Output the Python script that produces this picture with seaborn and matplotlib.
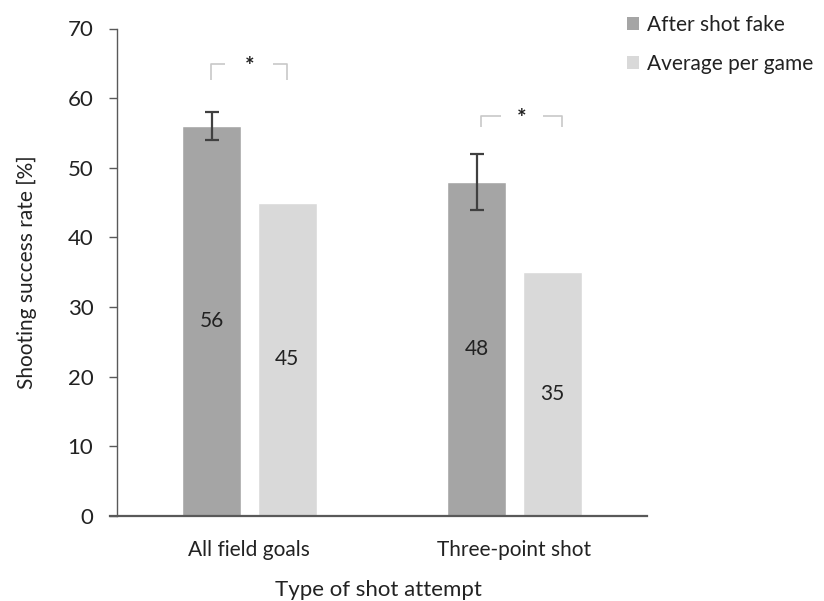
import matplotlib
matplotlib.use("Agg")
import matplotlib.pyplot as plt
import seaborn as sns
import pandas as pd
from matplotlib.patches import Patch

categories = ["All field goals", "Three-point shot"]
series = ["After shot fake", "Average per game"]
after_fake = [56, 48]
average_game = [45, 35]
after_fake_err = [2, 4]
y_ticks = [0, 10, 20, 30, 40, 50, 60, 70]

df = pd.DataFrame({
    "cat": categories * 2,
    "series": [series[0]] * 2 + [series[1]] * 2,
    "val": after_fake + average_game,
})

sns.set_theme(style="ticks")
plt.rcParams["font.family"] = ["Lato", "DejaVu Sans"]

fig = plt.figure(figsize=(8.24, 6.01), dpi=100)
ax = fig.add_axes([110 / 824, 1 - 516 / 601, (647 - 110) / 824, (516 - 28.5) / 601])

palette = {series[0]: "#a5a5a5", series[1]: "#d9d9d9"}
sns.barplot(data=df, x="cat", y="val", hue="series", order=categories,
            hue_order=series, palette=palette, width=0.57, gap=0.22,
            errorbar=None, saturation=1, ax=ax, legend=False)

off = 0.1425
for i, (v, e) in enumerate(zip(after_fake, after_fake_err)):
    ax.errorbar(i - off, v, yerr=e, fmt="none", ecolor="#404040",
                elinewidth=1.6, capsize=5, capthick=1.6, zorder=5)

txt = "#222222"
for i, v in enumerate(after_fake):
    ax.text(i - off, v / 2, str(v), ha="center", va="center", fontsize=15, color=txt)
for i, v in enumerate(average_game):
    ax.text(i + off, v / 2, str(v), ha="center", va="center", fontsize=15, color=txt)

# significance brackets
def bracket(x0, x1, ytop, ybot, gap):
    c = "#c8c8c8"
    xm = (x0 + x1) / 2
    ax.plot([x0, x0, xm - gap], [ybot, ytop, ytop], color=c, lw=1.2, solid_capstyle="butt")
    ax.plot([xm + gap, x1, x1], [ytop, ytop, ybot], color=c, lw=1.2, solid_capstyle="butt")
    ax.text(xm, ytop - 0.4, "*", ha="center", va="center", fontsize=16,
            fontweight="bold", color=txt)

bracket(0 - 0.145, 0 + 0.143, 64.9, 62.6, 0.09)
bracket(1 - 0.125, 1 + 0.18, 57.5, 55.9, 0.08)

ax.set_ylim(0, 70)
ax.set_xlim(-0.526, 1.5)
ax.set_yticks(y_ticks)
ax.spines["left"].set_position(("data", -0.5))
ax.spines["top"].set_visible(False)
ax.spines["right"].set_visible(False)
for s in ["left", "bottom"]:
    ax.spines[s].set_color("#595959")
ax.spines["left"].set_linewidth(1.0)
ax.spines["bottom"].set_linewidth(1.6)
ax.tick_params(axis="y", length=6, width=1.0, color="#595959", labelsize=16,
               labelcolor=txt, pad=11)
ax.tick_params(axis="x", length=0, labelsize=15, labelcolor=txt, pad=17)
ax.set_xlabel("Type of shot attempt", fontsize=16, color=txt, labelpad=15)
ax.set_ylabel("Shooting success rate [%]", fontsize=15, color=txt, labelpad=22)

# legend
handles = [Patch(facecolor=palette[s], edgecolor="none") for s in series]
fig.legend(handles, series, loc="upper left", bbox_to_anchor=(612 / 824, 1.0),
           frameon=False, fontsize=15, handlelength=0.58, handleheight=0.58,
           handletextpad=0.38, labelspacing=0.92, labelcolor=txt,
           borderaxespad=0.3)

fig.savefig("out.png", dpi=100)
